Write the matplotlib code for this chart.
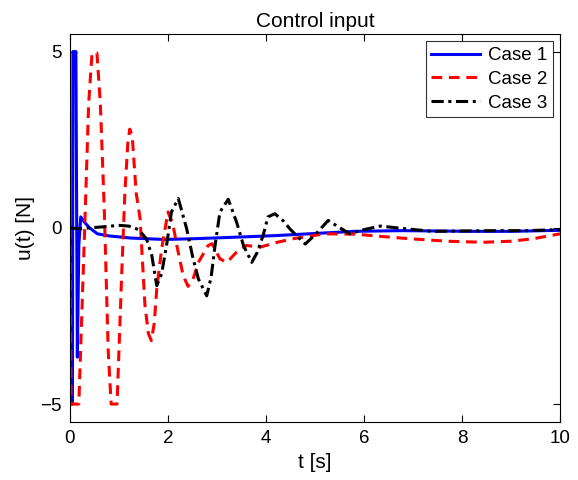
import matplotlib
matplotlib.use('Agg')
import matplotlib.pyplot as plt
import numpy as np

plt.rcParams['font.family'] = ['Liberation Sans', 'DejaVu Sans']

# Case 1 - blue
t1 = [0, 0.01, 0.05, 0.06, 0.12, 0.15, 0.18, 0.22, 0.3, 0.4, 0.56, 0.8, 1.24, 1.92, 2.5, 3.3, 4.2, 5.0, 5.8, 6.75, 7.5, 8.2, 9.0, 10]
u1 = [0, -5, -5, 5, 5, -3.67, -0.5, 0.31, 0.15, 0.0, -0.17, -0.23, -0.29, -0.33, -0.31, -0.27, -0.22, -0.16, -0.1, -0.08, -0.09, -0.1, -0.1, -0.07]

# Case 2 - red dashed
t2 = [0, 0.02, 0.18, 0.24, 0.3, 0.38, 0.45, 0.55, 0.62, 0.7, 0.78, 0.84, 0.96, 1.05, 1.12, 1.18, 1.22, 1.27, 1.35, 1.43, 1.53, 1.6, 1.66, 1.72, 1.77, 1.87, 2.0, 2.1, 2.18, 2.31, 2.41, 2.5, 2.62, 2.82, 2.9, 3.06, 3.2, 3.4, 3.6, 3.88, 4.2, 4.55, 5.2, 5.84, 6.4, 6.94, 7.7, 8.43, 9.0, 9.45, 10]
u2 = [0, -5, -5, -2.5, 0, 3.5, 4.96, 4.96, 3.5, 0.5, -3.5, -5, -5, -1.5, 1.0, 2.4, 2.8, 2.6, 1.0, 0.26, -2.2, -3.0, -3.2, -2.7, -1.74, -0.6, 0.45, 0.1, -0.5, -1.36, -1.66, -1.5, -0.98, -0.5, -0.45, -0.88, -0.98, -0.69, -0.5, -0.55, -0.42, -0.31, -0.17, -0.18, -0.25, -0.31, -0.38, -0.41, -0.38, -0.31, -0.17]

# Case 3 - black dash-dot
t3 = [0, 0.2, 0.4, 0.6, 1.0, 1.2, 1.4, 1.56, 1.67, 1.77, 1.87, 1.97, 2.07, 2.21, 2.38, 2.5, 2.62, 2.79, 2.88, 2.96, 3.06, 3.23, 3.4, 3.54, 3.71, 3.82, 3.94, 4.04, 4.18, 4.35, 4.5, 4.8, 5.0, 5.27, 5.45, 5.71, 6.0, 6.33, 6.8, 7.4, 8.0, 8.7, 9.3, 10]
u3 = [0, -0.03, 0.0, 0.02, 0.07, 0.05, -0.05, -0.31, -0.79, -1.64, -1.3, -0.5, 0.45, 0.83, -0.02, -0.8, -1.45, -1.93, -1.4, -0.5, 0.45, 0.81, 0.16, -0.5, -0.98, -0.7, -0.22, 0.31, 0.4, 0.2, -0.05, -0.46, -0.2, 0.21, 0.05, -0.17, -0.05, 0.05, -0.02, -0.1, -0.09, -0.08, -0.08, -0.05]

fig = plt.figure(figsize=(5.78, 4.8), dpi=100)
ax = fig.add_axes([0.1211, 0.1215, 0.8478, 0.8077])

ax.plot(t1, u1, color='#0000ff', lw=2.2, label='Case 1')
ax.plot(t2, u2, color='#ff0000', lw=2.2, ls=(0, (3.5, 2.2)), label='Case 2')
ax.plot(t3, u3, color='black', lw=2.2, ls=(0, (4, 1.5, 1, 1.5)), label='Case 3')

ax.set_xlim(0, 10)
ax.set_ylim(-5.5, 5.5)
ax.set_xticks([0, 2, 4, 6, 8, 10])
ax.set_yticks([-5, 0, 5])
ax.set_yticklabels(['\u22125', '0', '5'])
ax.tick_params(direction='in', top=True, right=True, labelsize=13.5, length=5, pad=6)
ax.set_xlabel('t [s]', fontsize=15)
ax.set_ylabel('u(t) [N]', fontsize=15)
ax.set_title('Control input', fontsize=15, pad=5)

leg = ax.legend(loc='upper right', fontsize=13.5, fancybox=False, edgecolor='black',
                handlelength=2.6, borderpad=0.3, labelspacing=0.35, handletextpad=0.4,
                borderaxespad=0.4)
leg.get_frame().set_linewidth(0.8)

fig.savefig('out.png', dpi=100)
